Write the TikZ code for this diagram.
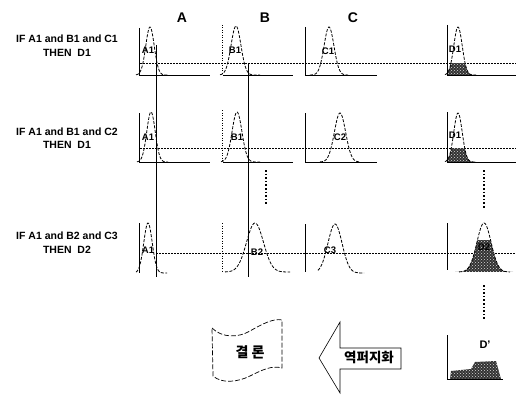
\documentclass[tikz,border=0pt]{standalone}
\usepackage{fontspec}
\setmainfont{Liberation Sans}
\newfontfamily\kr{Noto Sans CJK KR}
\usetikzlibrary{patterns}
\tikzset{
  rule/.style={font=\bfseries\fontsize{10.5}{11}\selectfont, align=center, inner sep=0pt},
  head/.style={font=\bfseries\fontsize{14}{14}\selectfont, inner sep=0pt},
  lab/.style={font=\bfseries\fontsize{9.5}{9.5}\selectfont, inner sep=0pt},
  axis/.style={line width=0.9pt},
  daxis/.style={line width=0.6pt, dash pattern=on 1pt off 1.5pt},
  base/.style={line width=0.9pt},
  cut/.style={line width=0.6pt, dash pattern=on 1.5pt off 1.5pt},
  bellline/.style={line width=0.8pt, dash pattern=on 3pt off 1.5pt},
  vline/.style={line width=1pt},
  dots/.style={line width=1.6pt, dash pattern=on 1.6pt off 2pt},
  dfill/.style={fill=black!80, postaction={pattern=crosshatch dots, pattern color=white!85!black}},
  kbox/.style={line width=0.7pt, dash pattern=on 5pt off 2pt},
  arrowshape/.style={line width=0.6pt},
}
\newcommand{\bellcurve}[6]{% mu base h s lo hi
  \draw[bellline] plot[domain=#5:#6, samples=60] (\x,{#2-#3*exp(-((\x-#1)/#4)*((\x-#1)/#4))});}
\newcommand{\bellfill}[7]{% mu base h s lo hi cut
  \begin{scope}\clip (447,#7) rectangle (516,#2+1);
  \fill[dfill] plot[domain=#5:#6, samples=60] (\x,{#2-#3*exp(-((\x-#1)/#4)*((\x-#1)/#4))}) -- cycle;
  \end{scope}}
\begin{document}
\begin{tikzpicture}[x=1pt,y=-1pt]
\useasboundingbox (0,0) rectangle (516,396);
% headers
\node[head] (hA) at (182,18) {A};
\node[head] (hB) at (265,18) {B};
\node[head] (hC) at (353,18) {C};
% rule texts
\node[rule] (r1a) at (67,39) {IF A1 and B1 and C1};
\node[rule] (r1b) at (67,53) {THEN~~D1};
\node[rule] (r2a) at (67,132) {IF A1 and B1 and C2};
\node[rule] (r2b) at (67,145) {THEN~~D1};
\node[rule] (r3a) at (67,236) {IF A1 and B2 and C3};
\node[rule] (r3b) at (67,250) {THEN~~D2};
% cut lines
\draw[cut] (140,63) -- (516,63);
\draw[cut] (140,148) -- (516,148);
\draw[cut] (156,253) -- (516,253);
% fills
\bellfill{458}{75}{48}{6}{440}{476}{63}
\bellfill{458}{162}{49}{6}{440}{476}{148}
\bellfill{484}{272}{49}{10}{455}{513}{240}
\fill[dfill] (450,379) -- (451,371) -- (471,369) -- (475,362) -- (496,361) -- (501,379) -- cycle;
% row 1
\draw[axis] (139,28) -- (139,75); \draw[base] (139,75) -- (210,75);
\draw[daxis] (222,25) -- (222,75); \draw[base] (223,75) -- (293,75);
\draw[axis] (305,27) -- (305,75); \draw[base] (305,75) -- (377,75);
\draw[axis] (447,25) -- (447,75); \draw[base] (447,75) -- (516,75);
\bellcurve{150}{75}{48}{6}{136}{168}
\bellcurve{236}{75}{49}{7}{220}{260}
\bellcurve{329}{75}{48}{7}{310}{348}
\bellcurve{458}{75}{48}{6}{445}{476}
% row 2
\draw[axis] (139,113) -- (139,162); \draw[base] (139,162) -- (210,162);
\draw[daxis] (222,110) -- (222,162); \draw[base] (223,162) -- (293,162);
\draw[axis] (305,113) -- (305,162); \draw[base] (305,162) -- (377,162);
\draw[axis] (447,112) -- (447,162); \draw[base] (447,162) -- (516,162);
\bellcurve{151}{162}{50}{6}{137}{168}
\bellcurve{237}{162}{50}{7}{221}{260}
\bellcurve{340}{162}{49}{8}{320}{360}
\bellcurve{458}{162}{49}{6}{445}{476}
% row 3
\draw[axis] (139,223) -- (139,273);
\draw[daxis] (222,223) -- (222,272);
\draw[axis] (305,224) -- (305,272);
\draw[axis] (447,223) -- (447,270);
\bellcurve{148}{273}{50}{6}{136}{167}
\bellcurve{255}{272}{49}{12}{225}{290}
\bellcurve{335}{273}{49}{10}{318}{364}
\bellcurve{484}{272}{49}{10}{459}{510}
% D'
\draw[axis] (447,335) -- (447,380); \draw[base] (447,379) -- (503,379);
% labels
\node[lab] (la1) at (148,50) {A1};
\node[lab] (lb1) at (235,50) {B1};
\node[lab] (lc1) at (328,51) {C1};
\node[lab] (ld1) at (455,49) {D1};
\node[lab] (la2) at (148,137) {A1};
\node[lab] (lb2) at (237,137) {B1};
\node[lab] (lc2) at (340,137) {C2};
\node[lab] (ld2) at (455,135) {D1};
\node[lab] (la3) at (148,250) {A1};
\node[lab] (lb3) at (257,252) {B2};
\node[lab] (lc3) at (330,250) {C3};
\node[lab] (ld3) at (484,247) {D2};
\node[lab, font=\bfseries\fontsize{11}{11}\selectfont] (ldp) at (485,345) {D'};
% vertical lines
\coordinate (vA1) at (156,45); \coordinate (vA2) at (156,277);
\coordinate (vB1) at (248,63); \coordinate (vB2) at (248,277);
\draw[vline] (vA1) -- (vA2);
\draw[vline] (vB1) -- (vB2);
% ellipsis dots
\coordinate (e1a) at (266,170); \coordinate (e1b) at (266,205);
\coordinate (e2a) at (484,170); \coordinate (e2b) at (484,208);
\coordinate (e3a) at (484,285); \coordinate (e3b) at (484,320);
\draw[dots] (e1a) -- (e1b);
\draw[dots] (e2a) -- (e2b);
\draw[dots] (e3a) -- (e3b);
% conclusion banner
\draw[kbox] (212,328) .. controls (222,338) and (238,338) .. (250,331)
  .. controls (262,324) and (274,318) .. (282,320) -- (282,368)
  .. controls (272,365) and (262,370) .. (250,376)
  .. controls (238,382) and (222,384) .. (213,376) -- cycle;
\node[font=\kr\bfseries\fontsize{14}{14}\selectfont, inner sep=0pt] (concl) at (250,352) {결 론};
% defuzzification arrow
\draw[arrowshape] (319,358) -- (340,322) -- (340,348) -- (401,348) -- (401,369) -- (340,369) -- (340,393) -- cycle;
\node[font=\kr\bfseries\fontsize{13.5}{14}\selectfont, inner sep=0pt] (defz) at (369,357) {역퍼지화};
\end{tikzpicture}
\end{document}
